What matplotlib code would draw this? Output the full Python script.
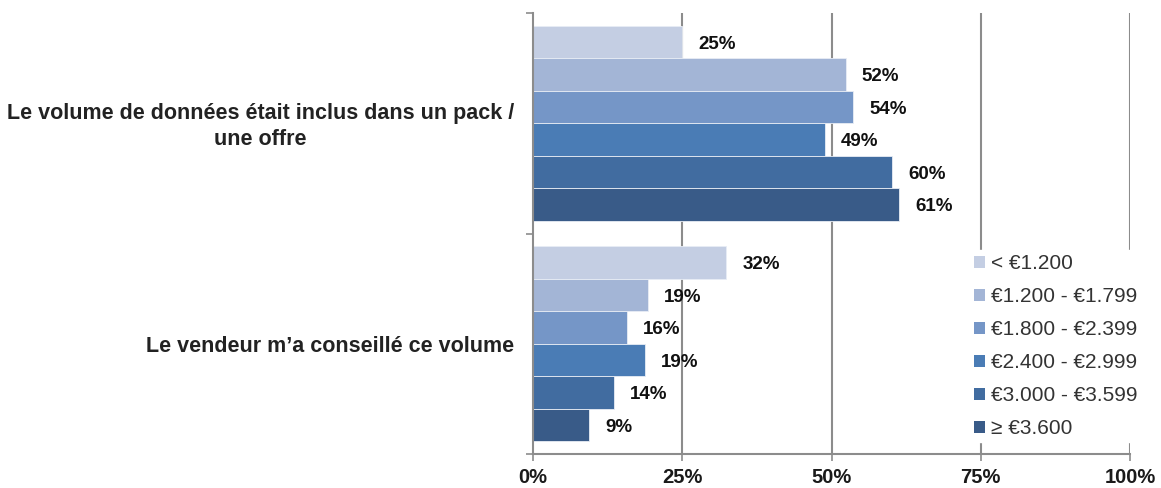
import matplotlib
matplotlib.use("Agg")
import matplotlib.pyplot as plt
import numpy as np

plt.rcParams['font.family'] = ['Liberation Sans', 'DejaVu Sans']

categories = ["Le volume de données était inclus dans un pack /\nune offre",
              "Le vendeur m\u2019a conseillé ce volume"]
series_names = ["< €1.200", "€1.200 - €1.799", "€1.800 - €2.399",
                "€2.400 - €2.999", "€3.000 - €3.599", "≥ €3.600"]
values = {
    "< €1.200":        [25.0, 32.4],
    "€1.200 - €1.799": [52.4, 19.3],
    "€1.800 - €2.399": [53.6, 15.7],
    "€2.400 - €2.999": [48.9, 18.7],
    "€3.000 - €3.599": [60.1, 13.5],
    "≥ €3.600":        [61.3, 9.4],
}
labels = {
    "< €1.200":        ["25%", "32%"],
    "€1.200 - €1.799": ["52%", "19%"],
    "€1.800 - €2.399": ["54%", "16%"],
    "€2.400 - €2.999": ["49%", "19%"],
    "€3.000 - €3.599": ["60%", "14%"],
    "≥ €3.600":        ["61%", "9%"],
}
colors = ["#C4CEE3", "#A3B5D6", "#7596C7", "#4A7CB5", "#416CA0", "#395B88"]
xticks = [0, 25, 50, 75, 100]
xticklabels = ["0%", "25%", "50%", "75%", "100%"]

fig = plt.figure(figsize=(11.61, 4.88), dpi=100)
ax = fig.add_axes([533/1161, 34/488, (1130-533)/1161, (454-13)/488])

n = len(series_names)
group = 0.885
h = group / n
ypos = np.arange(len(categories))
grid_c = "#8C8C8C"

for x in xticks[1:]:
    ax.axvline(x, color=grid_c, lw=1.5, zorder=0)

for i, name in enumerate(series_names):
    y = ypos - group/2 + h*(i + 0.5)
    ax.barh(y, values[name], height=h, color=colors[i], edgecolor="#E8EDF5",
            linewidth=0.6, zorder=2, label=name)
    for yy, v, lab in zip(y, values[name], labels[name]):
        ax.text(v + 2.7, yy + 0.01, lab, va="center", ha="left", fontsize=13.5,
                fontweight="bold", color="#111111", zorder=3)

ax.set_xlim(0, 100)
ax.set_ylim(1.5, -0.5)
ax.set_xticks(xticks)
ax.set_xticklabels(xticklabels, fontsize=14.5, fontweight="bold", color="#1a1a1a")
ax.set_yticks([-0.5, 0.5, 1.5])
ax.set_yticklabels([])
ax.tick_params(axis='y', length=5, width=1.2, color=grid_c, direction='out')
ax.tick_params(axis='x', length=5, width=1.2, color=grid_c, direction='out', pad=5)
for s in ["top", "right"]:
    ax.spines[s].set_visible(False)
for s in ["left", "bottom"]:
    ax.spines[s].set_color(grid_c)
    ax.spines[s].set_linewidth(1.5)

for yy, cat in zip(ypos, categories):
    disp_y = ax.transData.transform((0, yy))[1]
    fy = (disp_y - 3) / fig.bbox.height
    fig.text(514/1161, fy, cat, ha="right", va="center", fontsize=15.5,
             fontweight="bold", color="#222222", multialignment="center",
             linespacing=1.3)

leg = ax.legend(loc="upper left", bbox_to_anchor=(970/1161, (488-250)/488),
                bbox_transform=fig.transFigure, frameon=True, fontsize=15,
                handlelength=0.5, handleheight=0.5, handletextpad=0.3,
                labelspacing=0.67, borderpad=0.2, borderaxespad=0)
leg.get_frame().set_facecolor("white")
leg.get_frame().set_edgecolor("white")
leg.get_frame().set_alpha(1)
for t in leg.get_texts():
    t.set_color("#333333")
for p in leg.get_patches():
    p.set_edgecolor("none")

fig.savefig("out.png", dpi=100, facecolor="white")
